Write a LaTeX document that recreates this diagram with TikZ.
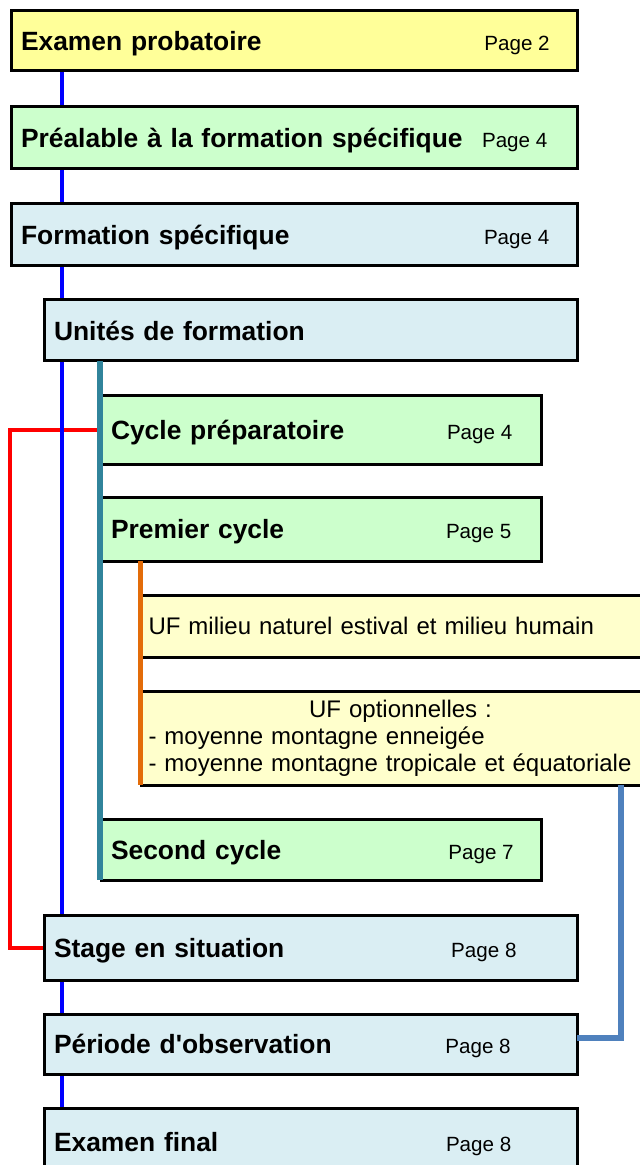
\documentclass[tikz,border=0pt]{standalone}
\usepackage{fontspec}
\setmainfont{Liberation Sans}
\usepackage{tikz}
\usetikzlibrary{backgrounds}

\definecolor{jaune}{HTML}{FFFF99}
\definecolor{vert}{HTML}{CCFFCC}
\definecolor{bleuclair}{HTML}{DAEEF3}
\definecolor{creme}{HTML}{FFFFCC}
\definecolor{sarcelle}{HTML}{31849B}
\definecolor{orangeuf}{HTML}{E36C09}
\definecolor{acier}{HTML}{4F81BD}

\begin{document}
\begin{tikzpicture}[x=0.5pt, y=-0.5pt,
    box/.style={draw, line width=1.5pt, anchor=north west, inner xsep=5pt, inner ysep=0pt,
        outer sep=0pt, align=left, font=\bfseries\fontsize{13.2}{15.8}\selectfont},
    large/.style={box, text width=273pt, text depth=0pt},
    moyen/.style={box, text width=256.5pt, text depth=0pt},
    cycle/.style={box, text width=210pt, text depth=0pt, fill=vert},
    ufbox/.style={box, inner xsep=3.75pt, text width=252pt, fill=creme,
        font=\fontsize{12}{13.6}\selectfont},
    page/.style={anchor=base west, inner sep=0pt, font=\fontsize{10.3}{12}\selectfont}]

    \useasboundingbox (0,0) rectangle (640,1165);
    \coordinate (spine) at (62,0);
    \coordinate (cyc) at (100,0);
    \coordinate (uf) at (140.5,0);
    \coordinate (retour) at (10,0);
    \coordinate (opt) at (621,0);

    \node[large, fill=jaune] (b1) at (11,11) [minimum height=30pt] {Examen probatoire};
    \node[large, fill=vert] (b2) at (11,107) [minimum height=31pt] {Préalable à la formation spécifique};
    \node[large, fill=bleuclair] (b3) at (11,204) [minimum height=31pt] {Formation spécifique};
    \node[moyen, fill=bleuclair] (b4) at (44,300) [minimum height=30.5pt] {Unités de formation};
    \node[cycle] (b5) at (101,396) [minimum height=34pt] {Cycle préparatoire};
    \node[cycle] (b6) at (101,497) [minimum height=32pt] {Premier cycle};
    \node[ufbox] (b7) at (141,595) [minimum height=31pt] {UF milieu naturel estival et milieu humain};
    \node[ufbox] (b8) at (141,691) [minimum height=47pt] {\makebox[252pt]{UF optionnelles :}\\
        - moyenne montagne enneigée\\
        - moyenne montagne tropicale et équatoriale};
    \node[cycle] (b9) at (101,819) [minimum height=30.5pt] {Second cycle};
    \node[moyen, fill=bleuclair] (b10) at (44,915) [minimum height=32.5pt] {Stage en situation};
    \node[moyen, fill=bleuclair] (b11) at (44,1014) [minimum height=30pt] {Période d\textquotesingle observation};
    \node[moyen, fill=bleuclair] (b12) at (44,1108) [minimum height=33.5pt] {Examen final};

    % page numbers
    \node[page] (p1) at ([xshift=236.5pt]b1.base west) {Page 2};
    \node[page] (p2) at ([xshift=235.3pt]b2.base west) {Page 4};
    \node[page] (p3) at ([xshift=236.3pt]b3.base west) {Page 4};
    \node[page] (p5) at ([xshift=172.8pt]b5.base west) {Page 4};
    \node[page] (p6) at ([xshift=172.3pt]b6.base west) {Page 5};
    \node[page] (p9) at ([xshift=173.5pt]b9.base west) {Page 7};
    \node[page] (p10) at ([xshift=203.4pt]b10.base west) {Page 8};
    \node[page] (p11) at ([xshift=200.5pt]b11.base west) {Page 8};
    \node[page] (p12) at ([xshift=200.8pt]b12.base west) {Page 8};

    \begin{scope}[on background layer]
    \draw[red, line width=2pt] (b5.west -| cyc) -- (b5.west -| retour) |- (b10.west); % stage
    \draw[blue, line width=2pt] (b1.south -| spine) -- (b12.north -| spine); % main line
    \end{scope}

    \draw[sarcelle, line width=2.8pt] (b4.south -| cyc) -- (b9.south -| cyc); % cycles
    \draw[orangeuf, line width=2.2pt] (b6.south -| uf) -- (b8.south -| uf); % UF
    \draw[acier, line width=3pt] (b8.south -| opt) |- ([yshift=3pt]b11.east); % options

\end{tikzpicture}
\end{document}
